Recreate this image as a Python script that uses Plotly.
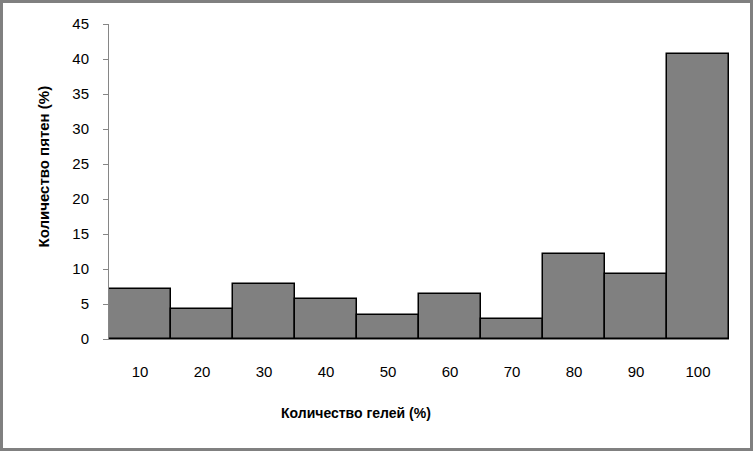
import plotly.graph_objects as go

categories = ["10", "20", "30", "40", "50", "60", "70", "80", "90", "100"]
values = [7.1, 4.25, 7.8, 5.7, 3.5, 6.4, 2.8, 12.1, 9.25, 40.7]
y_ticks = [0, 5, 10, 15, 20, 25, 30, 35, 40, 45]

W, H = 753, 451
L, R, T, B = 109, 24, 24, 112
pw, ph = W - L - R, H - T - B

fig = go.Figure(go.Bar(
    x=categories, y=values,
    marker=dict(color="#808080", line=dict(color="black", width=1.5)),
    hoverinfo="skip",
))

font_fam = "Liberation Sans, Arial, sans-serif"

fig.update_layout(
    width=W, height=H,
    margin=dict(l=L, r=R, t=T, b=B, autoexpand=False),
    paper_bgcolor="white", plot_bgcolor="white",
    bargap=0,
    showlegend=False,
    font=dict(family=font_fam, size=15, color="black"),
    xaxis=dict(
        type="category",
        showline=True, linecolor="#868686", linewidth=1,
        ticks="", showgrid=False,
        tickfont=dict(size=15),
        ticklabelstandoff=19,
    ),
    yaxis=dict(
        range=[0, 45], tickvals=y_ticks,
        showline=True, linecolor="#868686", linewidth=1,
        ticks="outside", ticklen=5, tickcolor="#868686",
        showgrid=False, zeroline=False,
        tickfont=dict(size=15),
        ticklabelstandoff=11,
    ),
    annotations=[
        dict(text="<b>Количество гелей (%)</b>", xref="paper", yref="paper",
             x=(356 - L) / pw, y=-(413 - (T + ph)) / ph,
             xanchor="center", yanchor="middle", showarrow=False,
             font=dict(size=14)),
        dict(text="<b>Количество пятен (%)</b>", xref="paper", yref="paper",
             x=-(L - 42.5) / pw, y=(T + ph - 167) / ph,
             xanchor="center", yanchor="middle", textangle=-90, showarrow=False,
             font=dict(size=15)),
    ],
    shapes=[dict(
        type="rect", xref="paper", yref="paper",
        x0=-(L - 1.5) / pw, x1=1 + (R - 1.5) / pw,
        y0=-(B - 1.5) / ph, y1=1 + (T - 1.5) / ph,
        line=dict(color="#808080", width=3),
    )],
)

fig.write_html("out.html", config={"displayModeBar": False},
               post_script="document.body.style.margin='0';")
